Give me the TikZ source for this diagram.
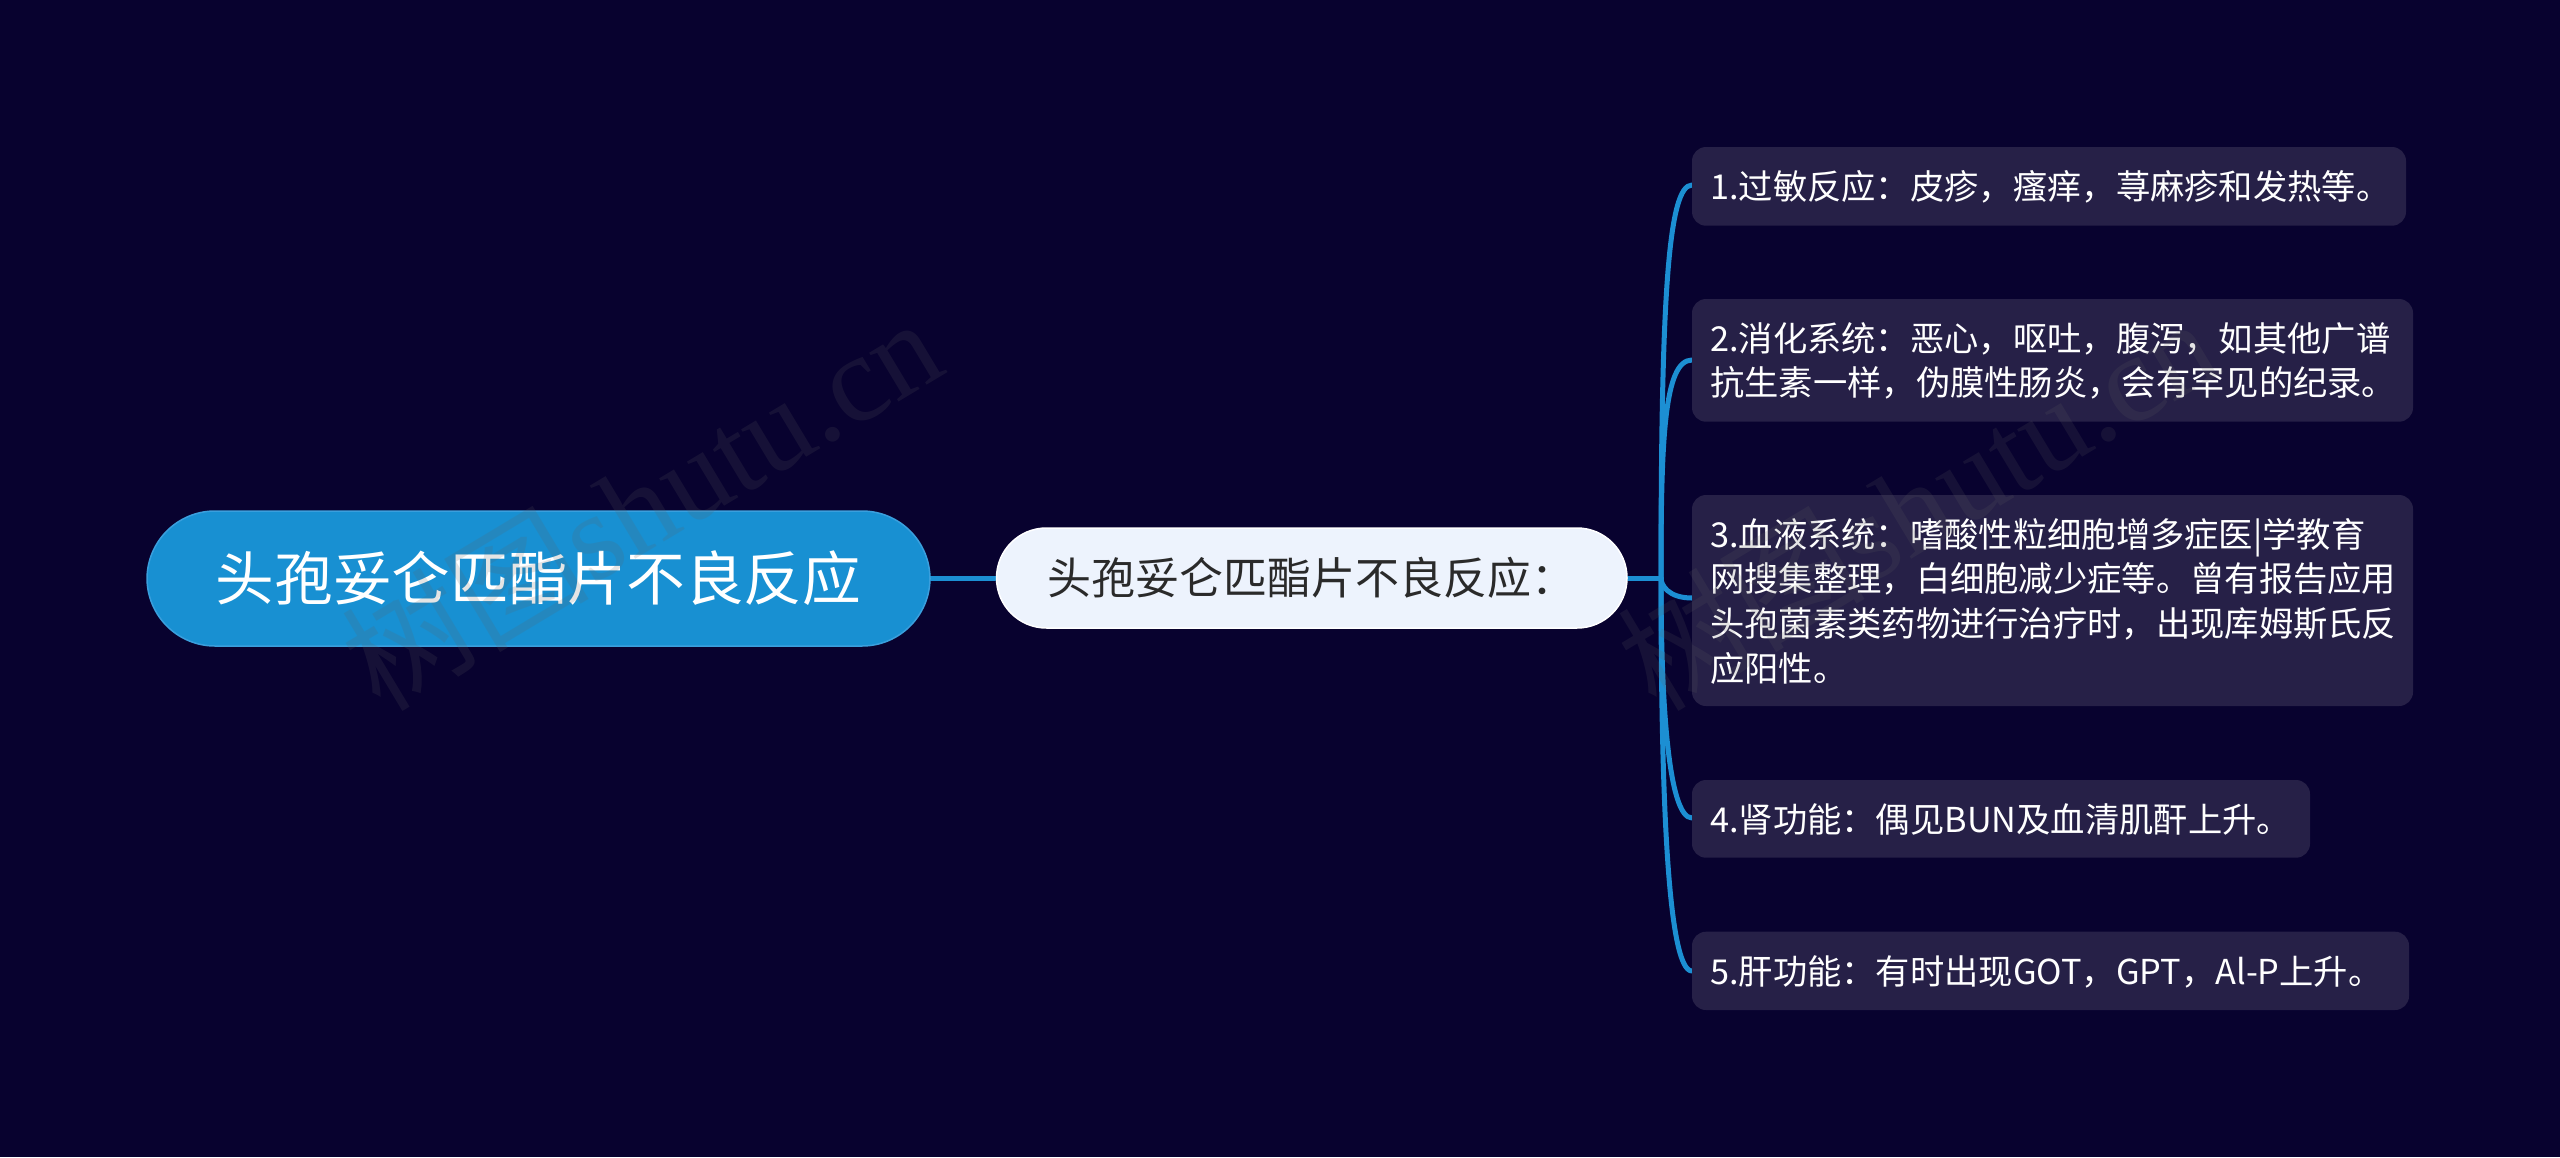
\documentclass[tikz,border=0pt]{standalone}
\usepackage{fontspec}
\setmainfont{Noto Sans CJK SC}
\newfontfamily\wmlat{Liberation Serif}
\definecolor{bgc}{HTML}{08022F}
\definecolor{rootc}{HTML}{1890D2}
\definecolor{rootb}{HTML}{3A9FDD}
\definecolor{linkc}{HTML}{1C8FD3}
\definecolor{childc}{HTML}{EDF3FD}
\definecolor{leafc}{HTML}{262047}
\definecolor{inkc}{HTML}{2A2A2A}
\definecolor{wmc}{HTML}{606060}
\tikzset{
  x=1pt,y=-1pt,
  box/.style={rounded corners=14pt,fill=leafc,draw=none},
  lbl/.style={inner sep=0pt,anchor=north west,align=left,text=white,font=\fontsize{34.3pt}{44.6pt}\selectfont},
  link/.style={draw=linkc,line width=5pt,line cap=round},
  wm/.style={text=wmc,opacity=0.17,rotate=31,inner sep=0pt,anchor=base east,font=\fontsize{124pt}{124pt}\selectfont}
}
\begin{document}
\begin{tikzpicture}
\useasboundingbox (0,0) rectangle (2560,1157);
\fill[bgc] (0,0) rectangle (2560,1157);
% anchors
\coordinate (t) at (1661,578);
\coordinate (e1) at (1692,185);
\coordinate (e2) at (1692,360);
\coordinate (e3) at (1692,598);
\coordinate (e4) at (1692,818);
\coordinate (e5) at (1692,971);
% links
\draw[link] (931,578) -- (995,578);
\draw[link] (1628,578) -- (t);
\draw[link] (t) .. controls (1661,300) and (1668,185) .. (e1);
\draw[link] (t) .. controls (1661,440) and (1664,360) .. (e2);
\draw[link] (t) .. controls (1661,585) and (1668,598) .. (e3);
\draw[link] (t) .. controls (1661,700) and (1668,818) .. (e4);
\draw[link] (t) .. controls (1661,800) and (1668,971) .. (e5);
% root
\filldraw[fill=rootc,draw=rootb,line width=1.5pt,rounded corners=68pt] (147,511) rectangle (930,646);
\node[inner sep=0pt,text=white,font=\fontsize{58.7pt}{60pt}\selectfont] (root) at (538.5,578) {头孢妥仑匹酯片不良反应};
% child
\filldraw[fill=childc,draw=white,line width=1.5pt,rounded corners=50pt] (996.5,528) rectangle (1627,628);
\node[inner sep=0pt,anchor=west,text=inkc,font=\fontsize{44pt}{46pt}\selectfont] (child) at (1047,578) {头孢妥仑匹酯片不良反应：};
% leaves
\fill[box] (1692,147) rectangle (2406,225.7);
\node[lbl] (l1) at (1710,170) {1.过敏反应：皮疹，瘙痒，荨麻疹和发热等。};
\fill[box] (1692,299) rectangle (2413,421.7);
\node[lbl] (l2) at (1710,322) {2.消化系统：恶心，呕吐，腹泻，如其他广谱\\抗生素一样，伪膜性肠炎，会有罕见的纪录。};
\fill[box] (1692,495) rectangle (2413,706);
\node[lbl] (l3) at (1710,518) {3.血液系统：嗜酸性粒细胞增多症医|学教育\\网搜集整理，白细胞减少症等。曾有报告应用\\头孢菌素类药物进行治疗时，出现库姆斯氏反\\应阳性。};
\fill[box] (1692,780) rectangle (2310,857.7);
\node[lbl] (l4) at (1710,803) {4.肾功能：偶见BUN及血清肌酐上升。};
\fill[box] (1692,931.7) rectangle (2409,1010);
\node[lbl] (l5) at (1710,955) {5.肝功能：有时出现GOT，GPT，Al-P上升。};
% watermarks
\node[wm] (w1) at (950,371) {树图{\wmlat shutu.cn}};
\node[wm] (w2) at (2226,371) {树图{\wmlat shutu.cn}};
\end{tikzpicture}
\end{document}
